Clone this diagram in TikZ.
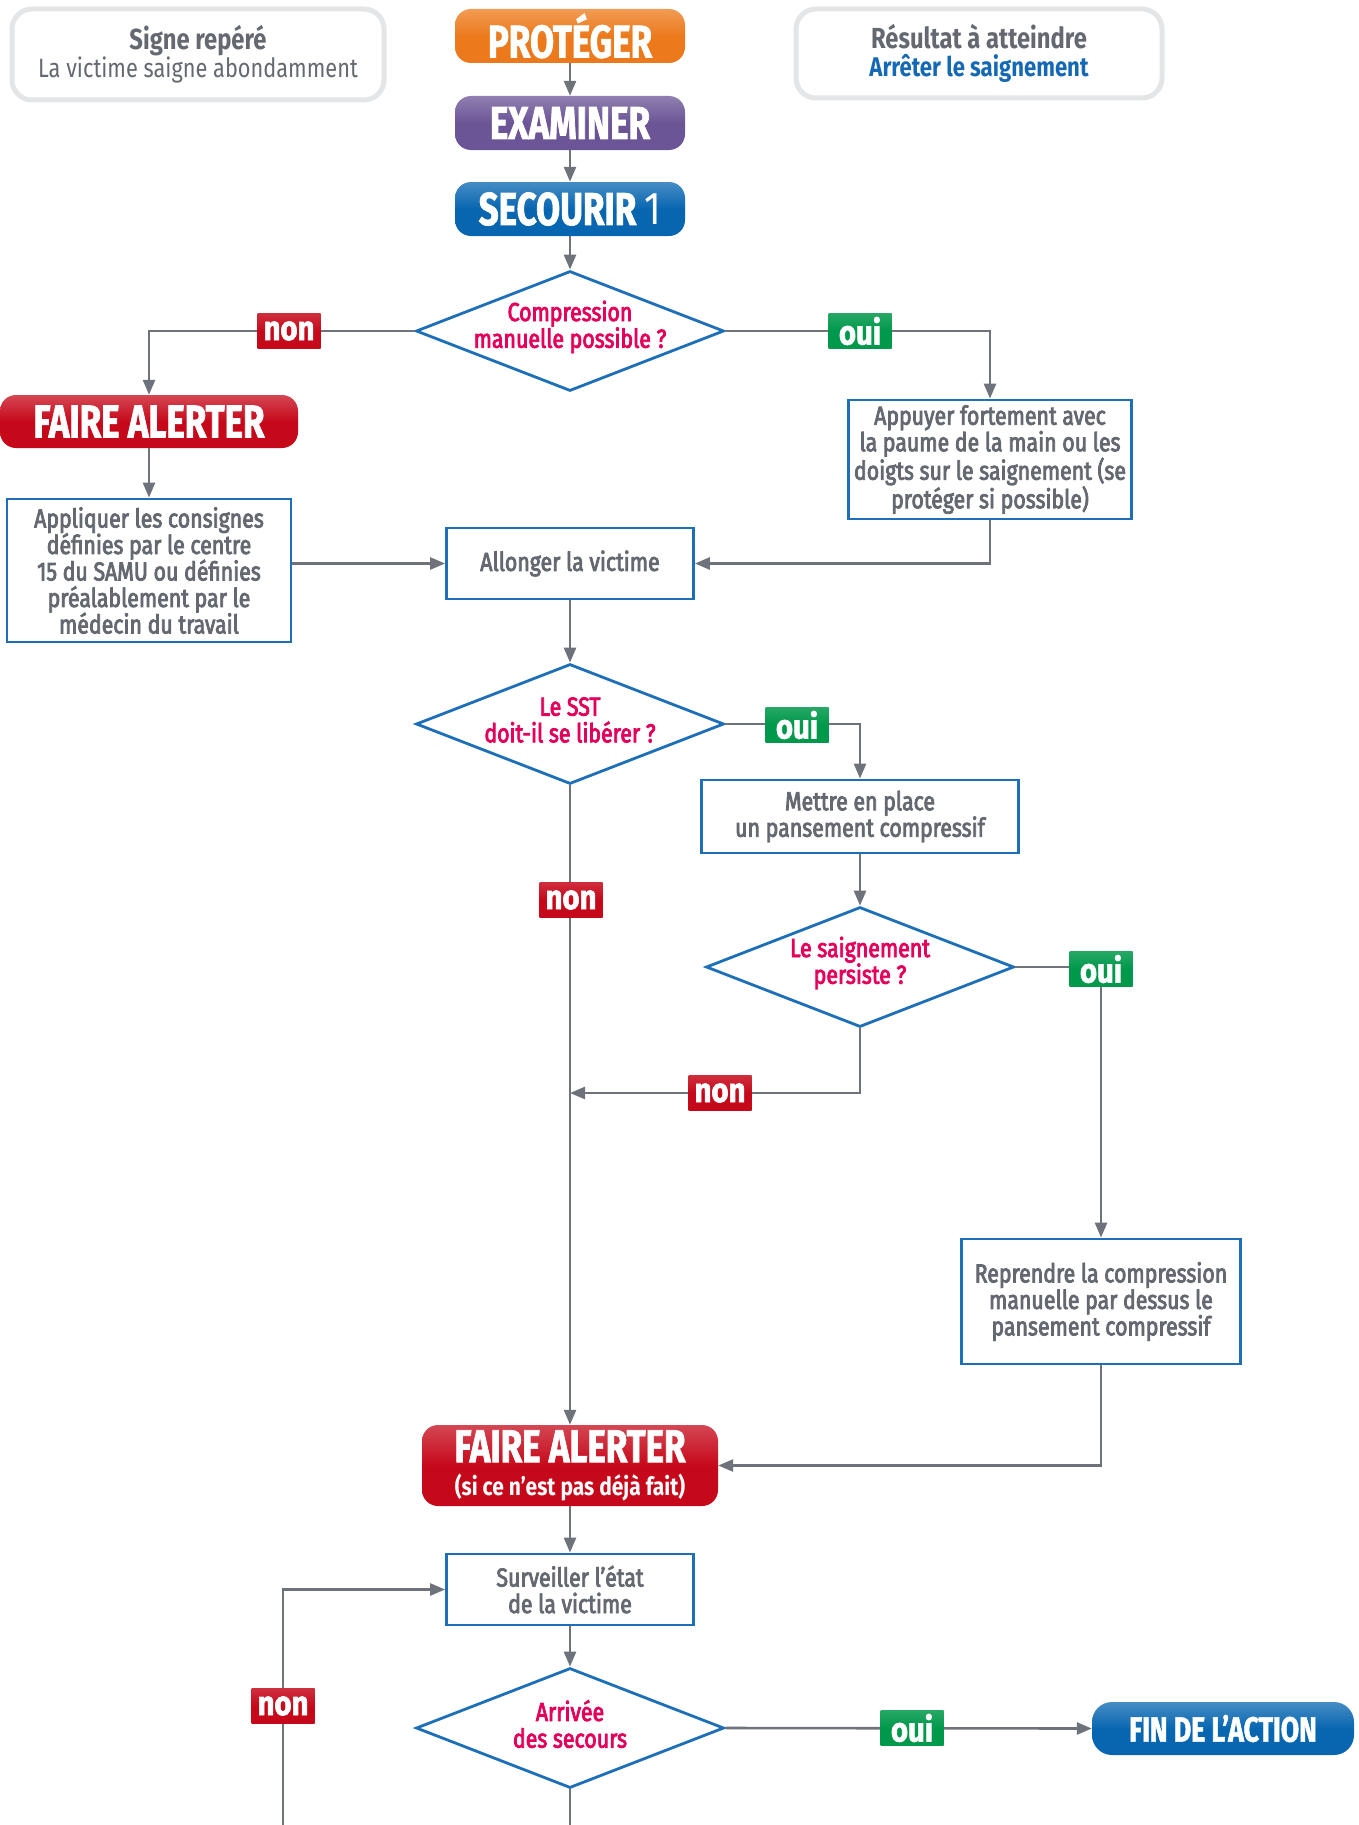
\documentclass[tikz,border=0pt]{standalone}
\usepackage{fontspec}
\setmainfont{Fira Sans}[FakeStretch=0.82]
\newfontfamily\bodyfont{Fira Sans}[FakeStretch=0.82, FakeBold=3]
\newfontfamily\titlefont{Fira Sans}[FakeStretch=0.76, FakeBold=1.5]
\newfontfamily\subfont{Fira Sans}[FakeStretch=0.84]
\newfontfamily\labfont{Fira Sans}[FakeStretch=0.86, FakeBold=2]
\usetikzlibrary{shapes.geometric,arrows.meta}
\definecolor{linegray}{HTML}{6E727A}
\definecolor{txtgray}{HTML}{646870}
\definecolor{boxblue}{HTML}{1D6FB8}
\definecolor{qmag}{HTML}{E4005A}
\definecolor{cOrange}{HTML}{EC7A1C}
\definecolor{cPurple}{HTML}{6B5596}
\definecolor{cBlue}{HTML}{0866B1}
\definecolor{cRed}{HTML}{C6091A}
\definecolor{cGreen}{HTML}{00984A}
\definecolor{hdrgray}{HTML}{E4E5E7}
\definecolor{resblue}{HTML}{1468B4}
\begin{document}
\begin{tikzpicture}[x=1pt,y=-1pt,
  line/.style={draw=linegray, line width=2.6pt},
  arr/.style={line, -{Triangle[length=15pt,width=12pt]}},
  box/.style={draw=boxblue, line width=2.8pt, fill=white, inner sep=0pt, align=center,
    text=txtgray, font=\bodyfont\fontsize{26}{26.5}\selectfont},
  btn/.style={rounded corners=16pt, inner sep=0pt, text=white, align=center,
    font=\titlefont\bfseries\fontsize{46}{46}\selectfont},
  hdr/.style={draw=hdrgray, line width=5pt, fill=white, rounded corners=20pt, inner sep=0pt, align=center,
    font=\fontsize{26}{28}\selectfont},
  dia/.style={diamond, draw=boxblue, line width=2.8pt, fill=white, inner sep=0pt,
    minimum width=308pt, minimum height=120pt},
  qtext/.style={text=qmag, align=center, font=\bodyfont\fontsize{26}{26.7}\selectfont},
  lab/.style={text=white, minimum width=63pt, minimum height=35pt, inner sep=0pt,
    font=\labfont\bfseries\fontsize{34}{34}\selectfont},
  nonlab/.style={lab, top color=cRed!85!white, bottom color=cRed, middle color=cRed},
  ouilab/.style={lab, top color=cGreen!85!white, bottom color=cGreen, middle color=cGreen}
]
\useasboundingbox (0,0) rectangle (1359,1825);

% header boxes
\node[hdr, minimum width=372pt, minimum height=91pt] (hdr1) at (198,54.5)
  {{\color{txtgray}\bfseries\fontsize{29}{28}\selectfont Signe repéré}\\
   {\color{txtgray}\fontsize{26.5}{28}\selectfont La victime saigne abondamment}};
\node[hdr, minimum width=366pt, minimum height=89pt] (hdr2) at (979,53.5)
  {{\color{txtgray}\bfseries\fontsize{29}{28}\selectfont Résultat à atteindre}\\
   {\color{resblue}\bfseries\fontsize{27}{28}\selectfont Arrêter le saignement}};

% action buttons
\node[btn, minimum width=230pt, minimum height=54pt, top color=cOrange!75!white, bottom color=cOrange, middle color=cOrange] (prot) at (570,36) {PROTÉGER};
\node[btn, minimum width=230pt, minimum height=54pt, top color=cPurple!75!white, bottom color=cPurple, middle color=cPurple] (exam) at (570,123) {EXAMINER};
\node[btn, minimum width=230pt, minimum height=54pt, top color=cBlue!75!white, bottom color=cBlue, middle color=cBlue] (sec) at (570,209) {SECOURIR {\subfont\mdseries 1}};

% decision 1
\node[dia] (d1) at (570,331) {};
\node[qtext] (q1) at (570,327) {Compression\\manuelle possible ?};

\node[btn, minimum width=298pt, minimum height=53pt, top color=cRed!75!white, bottom color=cRed, middle color=cRed] (fa1) at (149,421.5) {FAIRE ALERTER};
\node[box, minimum width=284pt, minimum height=143pt] (appl) at (149,570.5)
  {Appliquer les consignes\\définies par le centre\\15 du SAMU ou définies\\préalablement par le\\médecin du travail};
\node[box, minimum width=283pt, minimum height=119pt] (app) at (990,459.5)
  {Appuyer fortement avec\\la paume de la main ou les\\doigts sur le saignement (se\\protéger si possible)};
\node[box, minimum width=247pt, minimum height=71pt] (allo) at (570,563.5) {Allonger la victime};

% decision 2
\node[dia] (d2) at (570,724) {};
\node[qtext] (q2) at (570,720) {Le SST\\doit-il se libérer ?};
\node[box, minimum width=317pt, minimum height=73pt] (mettre) at (860,816.5)
  {Mettre en place\\un pansement compressif};

% decision 3
\node[dia] (d3) at (860,967) {};
\node[qtext] (q3) at (860,963) {Le saignement\\persiste ?};
\node[box, minimum width=279pt, minimum height=125pt] (repr) at (1101,1301.5)
  {Reprendre la compression\\manuelle par dessus le\\pansement compressif};

\node[btn, minimum width=296pt, minimum height=81pt, top color=cRed!75!white, bottom color=cRed, middle color=cRed] (fa2) at (570,1465.5)
  {FAIRE ALERTER\\[-13pt]{\subfont\bfseries\fontsize{25}{26}\selectfont (si ce n’est pas déjà fait)}};
\node[box, minimum width=247pt, minimum height=71pt] (surv) at (570,1589.5)
  {Surveiller l’état\\de la victime};

% decision 4
\node[dia] (d4) at (570,1728) {};
\node[qtext] (q4) at (570,1724) {Arrivée\\des secours};
\node[btn, minimum width=262pt, minimum height=53pt, rounded corners=20pt, top color=cBlue!75!white, bottom color=cBlue, middle color=cBlue,
  font=\titlefont\bfseries\fontsize{35}{35}\selectfont] (fin) at (1223,1728.5) {FIN DE L’ACTION};

\coordinate (j1) at (570,1093);
\coordinate (b1) at (283,1825);
\coordinate (b2) at (570,1825);

% connectors
\draw[arr] (prot.south) -- (exam.north);
\draw[arr] (exam.south) -- (sec.north);
\draw[arr] (sec.south) -- (d1.north);
\draw[arr] (d1.west) -| (fa1.north);
\draw[arr] (d1.east) -| (app.north);
\draw[arr] (fa1.south) -- (appl.north);
\draw[arr] (appl.east |- allo) -- (allo.west);
\draw[arr] (app.south) |- (allo.east);
\draw[arr] (allo.south) -- (d2.north);
\draw[arr] (d2.east) -| (mettre.north);
\draw[arr] (mettre.south) -- (d3.north);
\draw[arr] (d3.east) -| (repr.north);
\draw[arr] (d3.south) |- (j1);
\draw[arr] (d2.south) -- (fa2.north);
\draw[arr] (repr.south) |- (fa2.east);
\draw[arr] (fa2.south) -- (surv.north);
\draw[arr] (surv.south) -- (d4.north);
\draw[arr] (d4.east) -- (fin.west);
\draw[line] (d4.south) -- (b2);
\draw[arr] (b1) |- (surv.west);

% labels
\node[nonlab] (n1) at (289,331) {non};
\node[ouilab] (o1) at (860,331) {oui};
\node[ouilab] (o2) at (797,725) {oui};
\node[nonlab] (n2) at (571,900) {non};
\node[ouilab] (o3) at (1101,969) {oui};
\node[nonlab] (n3) at (720,1093) {non};
\node[ouilab] (o4) at (912,1728) {oui};
\node[nonlab] (n4) at (283,1706) {non};
\end{tikzpicture}
\end{document}
